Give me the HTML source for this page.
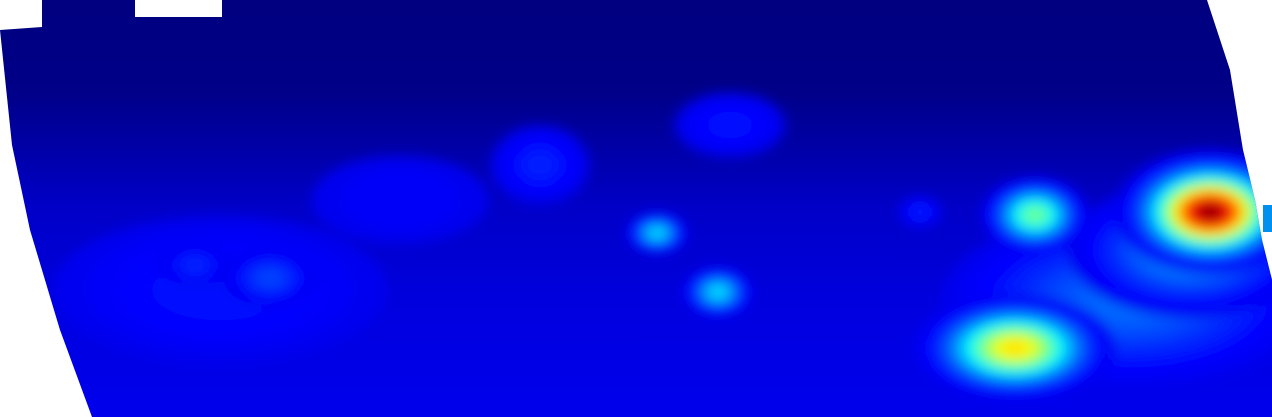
<!DOCTYPE html>
<html><head><meta charset="utf-8"><style>
html,body{margin:0;padding:0;background:#fff;width:1272px;height:417px;overflow:hidden}
</style></head><body>
<svg id="map" width="1272" height="417" viewBox="0 0 1272 417" xmlns="http://www.w3.org/2000/svg">
<defs>
<linearGradient id="bg" x1="0" y1="0" x2="0" y2="1">
<stop offset="0" stop-color="#000080"/><stop offset="0.22" stop-color="#000088"/>
<stop offset="0.5" stop-color="#0000c8"/><stop offset="0.75" stop-color="#0000e0"/><stop offset="1" stop-color="#0000ec"/>
</linearGradient>
<clipPath id="shape"><polygon points="0,30 42,27 42,0 135,0 135,17 222,17 222,0 1207,0 1230,70 1243,150 1255,200 1262,240 1272,280 1272,417 92,417 60,330 30,230 12,145"/></clipPath>
<filter id="blur" x="-20%" y="-20%" width="140%" height="140%"><feGaussianBlur stdDeviation="6"/></filter>
</defs>
<g clip-path="url(#shape)">
<rect x="0" y="0" width="1272" height="417" fill="url(#bg)"/>
<g id="blobs" filter="url(#blur)"></g>
</g>
<rect x="1263" y="205" width="9" height="27" fill="#0090f0"/>
</svg>
<script>
// blob centres (column, row), spreads and peak intensity (0..1 jet scale)
const blobX = [220, 1130, 730, 540, 400, 920, 195, 270, 1190, 657, 718, 1035, 1015, 1210];
const blobY = [290, 300, 125, 165, 200, 212, 265, 278, 250, 233, 292, 215, 348, 212];
const blobRX = [180, 150, 60, 50, 120, 22, 35, 40, 90, 22, 25, 35, 62, 55];
const blobRY = [80, 70, 35, 40, 60, 16, 20, 25, 50, 15, 18, 25, 33, 36];
const blobPeak = [0.15, 0.24, 0.15, 0.16, 0.13, 0.16, 0.17, 0.2, 0.3, 0.36, 0.36, 0.5, 0.67, 1.0];
const base = 0.09;
function jet(v){
  const c=x=>Math.round(255*Math.max(0,Math.min(1,x)));
  return `rgb(${c(1.5-Math.abs(4*v-3))},${c(1.5-Math.abs(4*v-2))},${c(1.5-Math.abs(4*v-1))})`;
}
const g=document.getElementById('blobs');
const NS='http://www.w3.org/2000/svg';
for(let i=0;i<blobX.length;i++){
  const p=blobPeak[i];
  for(let v=base+0.02; v<=p; v+=0.01){
    const r=Math.sqrt(-2*Math.log((v-base)/(p-base)+1e-6))/1.6;
    if(!(r>0)) continue;
    const e=document.createElementNS(NS,'ellipse');
    
    
    e.setAttribute('cx',blobX[i]);e.setAttribute('cy',blobY[i]);
    e.setAttribute('rx',blobRX[i]*r);e.setAttribute('ry',blobRY[i]*r);
    e.setAttribute('fill',jet(v));
    g.appendChild(e);
  }
}
</script>
</body></html>
